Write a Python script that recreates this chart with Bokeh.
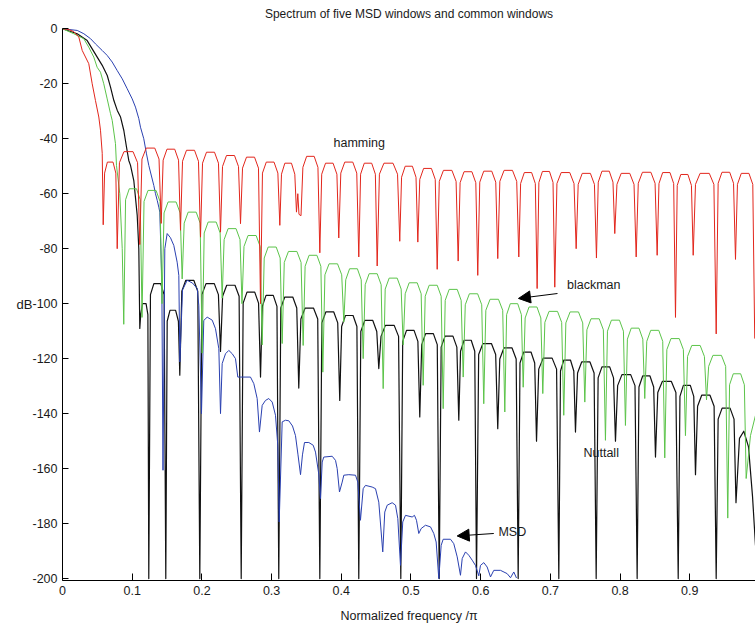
from bokeh.plotting import figure
from bokeh.models import Range1d, FixedTicker, Label, Arrow, NormalHead
from bokeh.embed import file_html
from bokeh.resources import INLINE

# Magnitude spectra: normalized frequency (x pi) and level in dB

hamming_f = [0.0, 0.008, 0.016, 0.0234, 0.0283, 0.0377, 0.0426, 0.0473, 0.0521, 0.0545, 0.0570,
             0.0584, 0.0604, 0.0644, 0.0725, 0.0765,
             0.0785, 0.0817, 0.0882, 0.1012, 0.1077,
             0.1109, 0.1140, 0.1201, 0.1324, 0.1385,
             0.1416, 0.1444, 0.1499, 0.1610, 0.1665,
             0.1693, 0.1722, 0.1779, 0.1894, 0.1951,
             0.1980, 0.2009, 0.2066, 0.2181, 0.2238,
             0.2267, 0.2296, 0.2353, 0.2468, 0.2525,
             0.2554, 0.2583, 0.2640, 0.2755, 0.2812,
             0.2841, 0.2869, 0.2924, 0.3035, 0.3090,
             0.3118, 0.3142, 0.3190, 0.3285, 0.3333,
             0.3357, 0.3376, 0.3393,
             0.3422, 0.3449, 0.3503, 0.3611, 0.3665,
             0.3692, 0.3719, 0.3774, 0.3882, 0.3937,
             0.3964, 0.3993, 0.4050, 0.4165, 0.4222,
             0.4251, 0.4277, 0.4330, 0.4436, 0.4489,
             0.4515, 0.4547, 0.4612, 0.4742, 0.4807,
             0.4839, 0.4865, 0.4917, 0.5020, 0.5072,
             0.5098, 0.5126, 0.5181, 0.5293, 0.5348,
             0.5376, 0.5406, 0.5466, 0.5587, 0.5647,
             0.5677, 0.5705, 0.5761, 0.5874, 0.5930,
             0.5958, 0.5987, 0.6044, 0.6159, 0.6216,
             0.6245, 0.6275, 0.6336, 0.6456, 0.6517,
             0.6547, 0.6573, 0.6626, 0.6731, 0.6784,
             0.6810, 0.6835, 0.6886, 0.6987, 0.7038,
             0.7063, 0.7094, 0.7155, 0.7278, 0.7339,
             0.7370, 0.7399, 0.7457, 0.7574, 0.7632,
             0.7661, 0.7687, 0.7740, 0.7845, 0.7898,
             0.7924, 0.7955, 0.8016, 0.8139, 0.8200,
             0.8231, 0.8261, 0.8321, 0.8442, 0.8502,
             0.8532, 0.8558, 0.8611, 0.8716, 0.8769,
             0.8795, 0.8820, 0.8871, 0.8973, 0.9024,
             0.9049, 0.9082, 0.9148, 0.9280, 0.9346,
             0.9379, 0.9407, 0.9462, 0.9573, 0.9628,
             0.9656, 0.9684, 0.9739, 0.9849, 0.9904,
             0.9932]
hamming_db = [0.0, -0.2, -1.0, -3.0, -7.9, -12.7, -20.0, -26.1, -32.1, -36.9, -45.3,
              -71.3, -52.5, -48.5, -48.5, -52.5,
              -80.0, -48.7, -44.7, -44.7, -48.7,
              -78.5, -47.4, -43.4, -43.4, -47.4,
              -70.8, -47.8, -43.8, -43.8, -47.8,
              -73.3, -48.2, -44.2, -44.2, -48.2,
              -75.8, -48.9, -44.9, -44.9, -48.9,
              -74.0, -50.1, -46.1, -46.1, -50.1,
              -70.9, -50.7, -46.7, -46.7, -50.7,
              -100.0, -52.5, -48.5, -48.5, -52.5,
              -71.5, -52.9, -48.9, -48.9, -52.9,
              -66.7, -60.0, -67.5,
              -68.0, -50.4, -46.4, -46.4, -50.4,
              -81.5, -52.9, -48.9, -48.9, -52.9,
              -76.1, -52.5, -48.5, -48.5, -52.5,
              -83.0, -52.9, -48.9, -48.9, -52.9,
              -86.3, -52.9, -48.9, -48.9, -52.9,
              -77.3, -54.0, -50.0, -50.0, -54.0,
              -77.6, -54.8, -50.8, -50.8, -54.8,
              -87.5, -55.5, -51.5, -51.5, -55.5,
              -84.5, -56.0, -52.0, -52.0, -56.0,
              -89.7, -55.8, -51.8, -51.8, -55.8,
              -83.6, -55.5, -51.5, -51.5, -55.5,
              -83.0, -56.3, -52.3, -52.3, -56.3,
              -94.5, -55.9, -51.9, -51.9, -55.9,
              -94.0, -56.3, -52.3, -52.3, -56.3,
              -80.0, -56.6, -52.6, -52.6, -56.6,
              -83.4, -55.8, -51.8, -51.8, -55.8,
              -74.5, -56.6, -52.6, -52.6, -56.6,
              -83.0, -56.2, -52.2, -52.2, -56.2,
              -82.4, -56.3, -52.3, -52.3, -56.3,
              -105.0, -57.0, -53.0, -53.0, -57.0,
              -82.4, -56.6, -52.6, -52.6, -56.6,
              -111.0, -56.2, -52.2, -52.2, -56.2,
              -83.9, -56.6, -52.6, -52.6, -56.6,
              -112.7]

blackman_f = [0.0, 0.0162, 0.0305, 0.0377, 0.0449, 0.0497, 0.0545, 0.0592, 0.0641, 0.0689, 0.0713,
              0.0760, 0.0775, 0.0822, 0.0857,
              0.0879, 0.0905, 0.0958, 0.1062, 0.1115,
              0.1141, 0.1170, 0.1227, 0.1342, 0.1399,
              0.1428, 0.1457, 0.1515, 0.1630, 0.1688,
              0.1717, 0.1746, 0.1803, 0.1918, 0.1975,
              0.2004, 0.2033, 0.2090, 0.2205, 0.2262,
              0.2291, 0.2319, 0.2376, 0.2490, 0.2547,
              0.2575, 0.2604, 0.2662, 0.2778, 0.2836,
              0.2865, 0.2894, 0.2951, 0.3066, 0.3123,
              0.3152, 0.3182, 0.3242, 0.3363, 0.3423,
              0.3453, 0.3481, 0.3538, 0.3650, 0.3707,
              0.3735, 0.3765, 0.3825, 0.3946, 0.4006,
              0.4036, 0.4064, 0.4119, 0.4231, 0.4286,
              0.4314, 0.4343, 0.4400, 0.4515, 0.4572,
              0.4601, 0.4630, 0.4687, 0.4802, 0.4859,
              0.4888, 0.4917, 0.4974, 0.5089, 0.5146,
              0.5175, 0.5204, 0.5261, 0.5376, 0.5433,
              0.5462, 0.5491, 0.5548, 0.5663, 0.5720,
              0.5749, 0.5779, 0.5838, 0.5956, 0.6015,
              0.6044, 0.6074, 0.6135, 0.6255, 0.6316,
              0.6346, 0.6372, 0.6425, 0.6531, 0.6584,
              0.6610, 0.6638, 0.6694, 0.6807, 0.6863,
              0.6891, 0.6921, 0.6981, 0.7102, 0.7162,
              0.7192, 0.7222, 0.7283, 0.7403, 0.7464,
              0.7494, 0.7524, 0.7583, 0.7701, 0.7760,
              0.7790, 0.7819, 0.7876, 0.7991, 0.8048,
              0.8077, 0.8105, 0.8160, 0.8271, 0.8326,
              0.8354, 0.8383, 0.8440, 0.8555, 0.8612,
              0.8641, 0.8671, 0.8730, 0.8849, 0.8908,
              0.8938, 0.8968, 0.9029, 0.9149, 0.9210,
              0.9240, 0.9271, 0.9332, 0.9454, 0.9515,
              0.9545, 0.9571, 0.9624, 0.9730, 0.9783,
              0.9809, 0.9871, 0.9943]
blackman_db = [0.0, -1.8, -3.6, -6.7, -10.3, -14.0, -15.8, -20.0, -25.5, -30.9, -33.3,
               -41.8, -49.8, -60.0, -80.0,
               -107.5, -62.2, -58.2, -58.2, -62.2,
               -105.0, -62.8, -58.8, -58.8, -62.8,
               -100.0, -67.0, -63.0, -63.0, -67.0,
               -91.0, -70.7, -66.7, -66.7, -70.7,
               -118.0, -74.3, -70.3, -70.3, -74.3,
               -98.0, -76.7, -72.7, -72.7, -76.7,
               -100.0, -79.2, -75.2, -75.2, -79.2,
               -115.0, -83.4, -79.4, -79.4, -83.4,
               -114.5, -85.0, -81.0, -81.0, -85.0,
               -115.2, -86.4, -82.4, -82.4, -86.4,
               -124.9, -89.5, -85.5, -85.5, -89.5,
               -106.7, -91.3, -87.3, -87.3, -91.3,
               -120.0, -93.1, -89.1, -89.1, -93.1,
               -130.9, -94.7, -90.7, -90.7, -94.7,
               -115.0, -96.4, -92.4, -92.4, -96.4,
               -129.7, -97.3, -93.3, -93.3, -97.3,
               -138.2, -98.8, -94.8, -94.8, -98.8,
               -126.7, -100.4, -96.4, -96.4, -100.4,
               -136.4, -102.4, -98.4, -98.4, -102.4,
               -139.4, -104.0, -100.0, -100.0, -104.0,
               -130.4, -105.2, -101.2, -101.2, -105.2,
               -132.7, -106.8, -102.8, -102.8, -106.8,
               -140.6, -107.0, -103.0, -103.0, -107.0,
               -135.8, -109.5, -105.5, -105.5, -109.5,
               -149.7, -110.0, -106.0, -106.0, -110.0,
               -144.3, -112.9, -108.9, -108.9, -112.9,
               -134.5, -113.7, -109.7, -109.7, -113.7,
               -156.1, -116.7, -112.7, -112.7, -116.7,
               -148.0, -119.2, -115.2, -115.2, -119.2,
               -135.0, -122.8, -118.8, -118.8, -122.8,
               -178.0, -129.5, -125.5, -125.5, -129.5,
               -163.6, -148.0, -140.6]

nuttall_f = [0.0, 0.0211, 0.0354, 0.0426, 0.0498, 0.0570, 0.0642, 0.0689, 0.0737, 0.0786, 0.0833,
             0.0880, 0.0918, 0.0951, 0.0976, 0.1023, 0.1072, 0.1095,
             0.1109, 0.1122, 0.1148, 0.1199, 0.1225,
             0.1238, 0.1262, 0.1311, 0.1409, 0.1458,
             0.1482, 0.1502, 0.1542, 0.1623, 0.1663,
             0.1683, 0.1712, 0.1769, 0.1884, 0.1941,
             0.1970, 0.2000, 0.2059, 0.2178, 0.2237,
             0.2267, 0.2297, 0.2356, 0.2475, 0.2534,
             0.2564, 0.2592, 0.2647, 0.2758, 0.2813,
             0.2841, 0.2867, 0.2920, 0.3024, 0.3077,
             0.3103, 0.3132, 0.3189, 0.3304, 0.3361,
             0.3390, 0.3420, 0.3481, 0.3601, 0.3662,
             0.3692, 0.3721, 0.3778, 0.3892, 0.3949,
             0.3978, 0.4005, 0.4060, 0.4169, 0.4224,
             0.4251, 0.4280, 0.4337, 0.4452, 0.4509,
             0.4538, 0.4570, 0.4633, 0.4759, 0.4822,
             0.4854, 0.4881, 0.4936, 0.5044, 0.5099,
             0.5126, 0.5154, 0.5210, 0.5321, 0.5377,
             0.5405, 0.5433, 0.5489, 0.5602, 0.5658,
             0.5686, 0.5711, 0.5762, 0.5864, 0.5915,
             0.5940, 0.5971, 0.6032, 0.6154, 0.6215,
             0.6245, 0.6274, 0.6333, 0.6450, 0.6509,
             0.6538, 0.6564, 0.6617, 0.6722, 0.6775,
             0.6801, 0.6833, 0.6897, 0.7025, 0.7089,
             0.7121, 0.7145, 0.7193, 0.7288, 0.7336,
             0.7360, 0.7390, 0.7449, 0.7568, 0.7627,
             0.7657, 0.7685, 0.7740, 0.7851, 0.7906,
             0.7934, 0.7965, 0.8027, 0.8152, 0.8214,
             0.8245, 0.8271, 0.8324, 0.8429, 0.8482,
             0.8508, 0.8541, 0.8606, 0.8736, 0.8801,
             0.8834, 0.8859, 0.8908, 0.9008, 0.9057,
             0.9082, 0.9112, 0.9171, 0.9290, 0.9349,
             0.9379, 0.9407, 0.9464, 0.9578, 0.9635,
             0.9663, 0.9713, 0.9775, 0.9842, 0.9900, 0.9943]
nuttall_db = [0.0, -1.8, -4.3, -7.3, -10.3, -13.3, -17.0, -21.2, -26.1, -29.7, -32.1,
              -37.0, -43.0, -47.9, -49.7, -55.2, -67.9, -80.0,
              -109.0, -104.0, -100.0, -100.0, -104.0,
              -200.0, -96.7, -92.7, -92.7, -96.7,
              -200.0, -106.4, -102.4, -102.4, -106.4,
              -126.0, -95.5, -91.5, -91.5, -95.5,
              -200.0, -96.7, -92.7, -92.7, -96.7,
              -117.4, -97.3, -93.3, -93.3, -97.3,
              -200.0, -99.8, -95.8, -95.8, -99.8,
              -126.7, -101.0, -97.0, -97.0, -101.0,
              -200.0, -101.6, -97.6, -97.6, -101.6,
              -130.7, -105.6, -101.6, -101.6, -105.6,
              -200.0, -107.0, -103.0, -103.0, -107.0,
              -135.2, -108.3, -104.3, -104.3, -108.3,
              -200.0, -110.1, -106.1, -106.1, -110.1,
              -123.6, -111.9, -107.9, -107.9, -111.9,
              -200.0, -113.7, -109.7, -109.7, -113.7,
              -141.2, -114.9, -110.9, -110.9, -114.9,
              -200.0, -115.8, -111.8, -111.8, -115.8,
              -142.4, -117.3, -113.3, -113.3, -117.3,
              -200.0, -118.5, -114.5, -114.5, -118.5,
              -145.5, -120.1, -116.1, -116.1, -120.1,
              -200.0, -121.6, -117.6, -117.6, -121.6,
              -150.0, -123.8, -119.8, -119.8, -123.8,
              -200.0, -124.5, -120.5, -120.5, -124.5,
              -146.7, -125.2, -121.2, -121.2, -125.2,
              -200.0, -127.0, -123.0, -123.0, -127.0,
              -150.0, -129.8, -125.8, -125.8, -129.8,
              -200.0, -130.3, -126.3, -126.3, -130.3,
              -155.8, -132.3, -128.3, -128.3, -132.3,
              -200.0, -133.7, -129.7, -129.7, -133.7,
              -162.2, -137.3, -133.3, -133.3, -137.3,
              -200.0, -142.0, -138.0, -138.0, -142.0,
              -172.4, -149.0, -146.4, -152.0, -170.0, -188.0]

msd_f = [0.0, 0.0211, 0.0306, 0.0402, 0.0473, 0.0570, 0.0641, 0.0713, 0.0785, 0.0857,
         0.0928, 0.1000, 0.1047, 0.1095, 0.1119, 0.1166, 0.1205, 0.1238, 0.1310, 0.1334,
         0.1359, 0.1382, 0.1396, 0.1425, 0.1442, 0.1468, 0.1502, 0.1549, 0.1597, 0.1645,
         0.1669, 0.1684, 0.1722, 0.1789, 0.1865, 0.1933, 0.1956, 0.1994, 0.2027, 0.2076,
         0.2148, 0.2195, 0.2243, 0.2267, 0.2291, 0.2339, 0.2386, 0.2435, 0.2482, 0.2515,
         0.2554, 0.2697, 0.2745, 0.2793, 0.2826, 0.2865, 0.2912, 0.2960, 0.3009, 0.3056,
         0.3089, 0.3109, 0.3152, 0.3199, 0.3247, 0.3300, 0.3343, 0.3379, 0.3415, 0.3443,
         0.3472, 0.3534, 0.3597, 0.3630, 0.3677, 0.3702, 0.3726, 0.3749, 0.3869, 0.3917,
         0.3941, 0.3974, 0.4013, 0.4036, 0.4108, 0.4204, 0.4237, 0.4275, 0.4314, 0.4347,
         0.4443, 0.4491, 0.4538, 0.4595, 0.4624, 0.4659, 0.4730, 0.4778, 0.4811, 0.4849,
         0.4882, 0.4921, 0.5017, 0.5050, 0.5079, 0.5112, 0.5146, 0.5208, 0.5280, 0.5327,
         0.5361, 0.5399, 0.5433, 0.5462, 0.5567, 0.5614, 0.5663, 0.5710, 0.5735, 0.5782,
         0.5829, 0.5878, 0.5925, 0.5973, 0.5997, 0.6045, 0.6093, 0.6141, 0.6188, 0.6284,
         0.6380, 0.6428, 0.6475, 0.6514]
msd_db = [0.0, -0.6, -1.8, -3.6, -5.5, -7.9, -9.7, -12.1, -15.2, -18.2,
          -21.8, -25.5, -28.5, -32.7, -35.8, -40.0, -45.5, -49.7, -57.0, -60.0,
          -62.4, -64.9, -66.7, -92.0, -160.6, -80.0, -74.5, -76.0, -78.8, -84.9,
          -89.7, -121.2, -95.0, -91.5, -92.5, -94.5, -100.6, -140.0, -106.1, -104.9,
          -106.0, -109.1, -116.4, -140.0, -121.8, -118.2, -117.0, -118.2, -120.0, -126.7,
          -126.7, -126.7, -129.1, -134.5, -146.7, -137.0, -135.2, -134.5, -135.8, -140.6,
          -151.5, -179.4, -143.0, -142.4, -142.6, -144.5, -148.0, -155.0, -162.2, -155.0,
          -150.5, -150.5, -151.5, -154.0, -162.0, -170.9, -157.6, -155.8, -155.5, -157.0,
          -160.0, -168.5, -164.9, -162.4, -162.2, -162.4, -164.9, -178.8, -167.3, -166.1,
          -166.7, -167.3, -172.2, -190.3, -175.8, -173.3, -172.4, -173.3, -178.2, -195.2,
          -179.4, -177.0, -177.6, -177.0, -178.8, -183.6, -181.8, -180.6, -181.2, -183.6,
          -186.7, -200.0, -187.9, -185.7, -185.7, -187.3, -192.1, -198.8, -192.7, -190.3,
          -191.5, -193.3, -195.2, -199.0, -195.2, -194.2, -195.8, -199.4, -197.0, -197.0,
          -198.2, -199.7, -197.6, -199.8]

x_ticks = [0, 0.1, 0.2, 0.3, 0.4, 0.5, 0.6, 0.7, 0.8, 0.9]
x_tick_labels = ["0", "0.1", "0.2", "0.3", "0.4", "0.5", "0.6", "0.7", "0.8", "0.9"]
y_ticks = [0, -20, -40, -60, -80, -100, -120, -140, -160, -180, -200]
y_tick_labels = ["0", "-20", "-40", "-60", "-80", "-100", "-120", "-140", "-160", "-180", "-200"]

# curve names and where they are written (frequency, dB)
names = ["hamming", "blackman", "Nuttall", "MSD"]
name_f = [0.3888, 0.7238, 0.7475, 0.6255]
name_db = [-41.7, -93.3, -154.4, -183.2]
# pointer arrows: tail (frequency, dB) -> tip (frequency, dB)
arrow_tail = [(0.7102, -96.3), (0.6188, -183.6)]
arrow_tip = [(0.6542, -98.1), (0.5663, -184.5)]

FONT = "Liberation Sans"
INK = "#1a1a1a"

p = figure(width=755, height=626,
           x_range=Range1d(0, 0.9943), y_range=Range1d(-200.7, 0.1),
           toolbar_location=None, output_backend="svg",
           min_border_left=62, min_border_right=0,
           min_border_top=28, min_border_bottom=46)
p.outline_line_color = None
p.xgrid.visible = False
p.ygrid.visible = False
p.background_fill_color = "white"
p.border_fill_color = "white"

p.title.text = "Spectrum of five MSD windows and common windows"
p.title.align = "center"
p.title.vertical_align = "top"
p.title.text_font = FONT
p.title.text_font_size = "12px"
p.title.text_font_style = "normal"
p.title.text_color = INK
p.title.standoff = 11

for ax in (p.xaxis[0], p.yaxis[0]):
    ax.axis_line_color = "black"
    ax.axis_line_width = 1
    ax.major_tick_out = 0
    ax.minor_tick_line_color = None
    ax.major_label_text_font = FONT
    ax.major_label_text_font_size = "12.5px"
    ax.major_label_text_color = INK
    ax.major_tick_line_color = "black"
    ax.axis_label_text_font = FONT
    ax.axis_label_text_font_style = "normal"
    ax.axis_label_text_color = INK

p.xaxis.ticker = FixedTicker(ticks=x_ticks)
p.xaxis.major_label_overrides = dict(zip(x_ticks, x_tick_labels))
p.xaxis.major_tick_in = 7
p.xaxis.major_label_standoff = 5
p.xaxis.axis_label = "Normalized frequency /\u03c0"
p.xaxis.axis_label_text_font_size = "12.5px"
p.xaxis.axis_label_standoff = 11

p.yaxis.ticker = FixedTicker(ticks=y_ticks)
p.yaxis.major_label_overrides = dict(zip(y_ticks, y_tick_labels))
p.yaxis.major_tick_in = 6
p.yaxis.major_label_standoff = 5
p.yaxis.axis_label = "dB"
p.yaxis.axis_label_text_font_size = "13px"
p.yaxis.axis_label_standoff = -3
try:
    p.yaxis.axis_label_orientation = "horizontal"
except Exception:
    pass

# spectra
p.line(nuttall_f, nuttall_db, line_color="#111111", line_width=1.2, line_join="round")
p.line(msd_f, msd_db, line_color="#2a40b0", line_width=1.0, line_join="round")
p.line(blackman_f, blackman_db, line_color="#5cc44a", line_width=1.0, line_join="round")
p.line(hamming_f, hamming_db, line_color="#e2261c", line_width=1.0, line_join="round")

for t, xf, yd in zip(names, name_f, name_db):
    p.add_layout(Label(x=xf, y=yd, text=t, text_font=FONT, text_font_size="12.5px",
                       text_color=INK, text_baseline="middle", text_align="left"))

for (xs, ys), (xe, ye) in zip(arrow_tail, arrow_tip):
    p.add_layout(Arrow(x_start=xs, y_start=ys, x_end=xe, y_end=ye,
                       line_color="black", line_width=1,
                       end=NormalHead(size=12, fill_color="black", line_color="black", line_width=1)))

open("out.html", "w").write(file_html(p, INLINE))
